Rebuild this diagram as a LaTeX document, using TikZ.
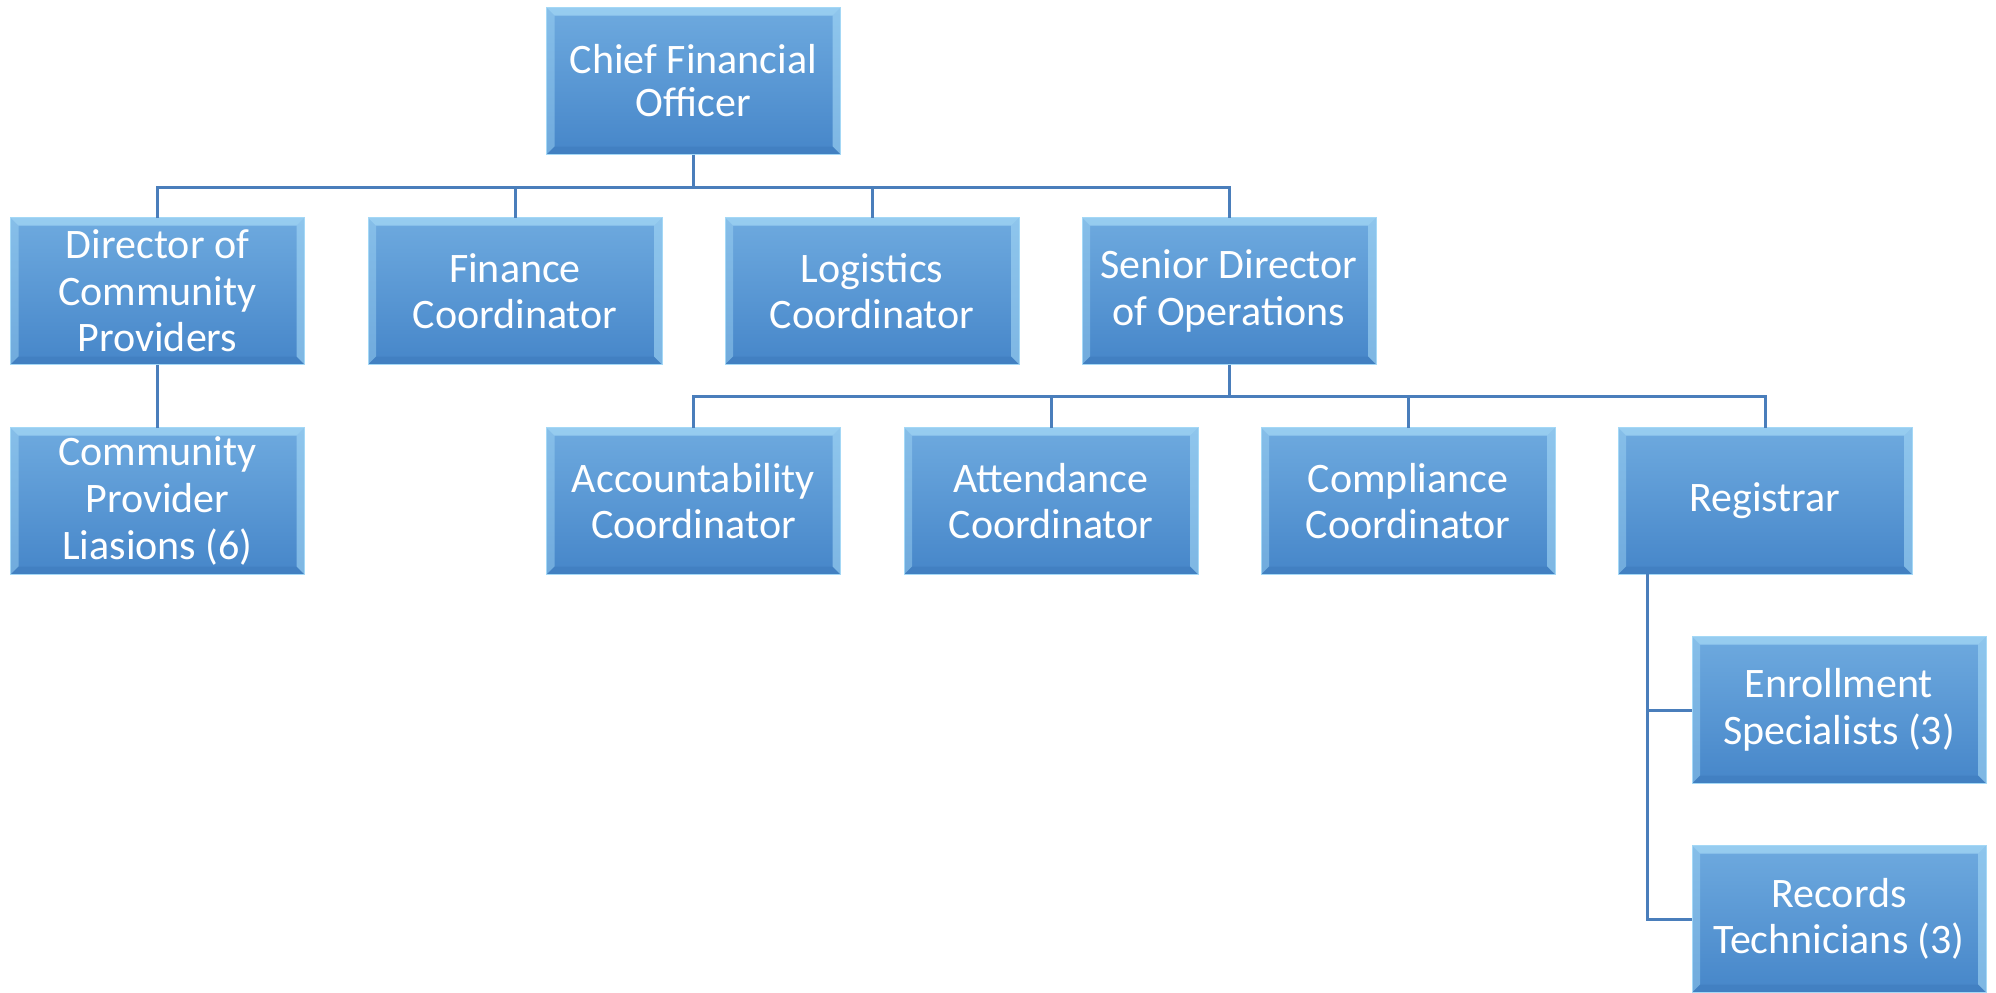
\documentclass[tikz,border=0pt]{standalone}
\usepackage{fontspec}
\setmainfont{Carlito}
\definecolor{boxtop}{HTML}{6EAADF}
\definecolor{boxbot}{HTML}{4686C9}
\definecolor{bevellight}{HTML}{A4D8F6}
\definecolor{beveldark}{HTML}{3F7CBD}
\definecolor{linkcol}{HTML}{4A7EBB}
\tikzset{
  orgbox/.style={rectangle, minimum width=147pt, minimum height=73.5pt,
    inner sep=0pt, outer sep=0pt, top color=boxtop, bottom color=boxbot,
    draw=bevellight, line width=.4pt, text=white, align=center,
    font=\fontsize{21}{23.3}\selectfont,
    path picture={
      \fill[bevellight, opacity=.75] (path picture bounding box.north west) -- (path picture bounding box.north east)
        -- ([xshift=-4pt,yshift=-4pt]path picture bounding box.north east) -- ([xshift=4pt,yshift=-4pt]path picture bounding box.north west) -- cycle;
      \fill[bevellight, opacity=.45] (path picture bounding box.north west) -- (path picture bounding box.south west)
        -- ([xshift=4pt,yshift=4pt]path picture bounding box.south west) -- ([xshift=4pt,yshift=-4pt]path picture bounding box.north west) -- cycle;
      \fill[bevellight, opacity=.6] (path picture bounding box.north east) -- (path picture bounding box.south east)
        -- ([xshift=-4pt,yshift=4pt]path picture bounding box.south east) -- ([xshift=-4pt,yshift=-4pt]path picture bounding box.north east) -- cycle;
      \fill[beveldark, opacity=.6] (path picture bounding box.south west) -- (path picture bounding box.south east)
        -- ([xshift=-4pt,yshift=4pt]path picture bounding box.south east) -- ([xshift=4pt,yshift=4pt]path picture bounding box.south west) -- cycle;
    }},
  orgline/.style={draw=linkcol, line width=1.5pt}
}
\begin{document}
\begin{tikzpicture}[x=0.5pt, y=-0.5pt]
  \useasboundingbox (0,0) rectangle (1996,992);
  % top level
  \node[orgbox, font=\fontsize{21}{21.5}\selectfont] (cfo) at (693.5, 81) {Chief Financial\\Officer};
  % second row
  \node[orgbox] (dircp) at (157.5, 291) {Director of\\Community\\Providers};
  \node[orgbox] (fincoord) at (515, 291) {Finance\\Coordinator};
  \node[orgbox] (logcoord) at (872, 291) {Logistics\\Coordinator};
  \node[orgbox] (srdirops) at (1229, 291) {Senior Director\\of Operations};
  % third row
  \node[orgbox] (liaisons) at (157.5, 501) {Community\\Provider\\Liasions (6)};
  \node[orgbox] (acccoord) at (693.5, 501) {Accountability\\Coordinator};
  \node[orgbox] (attcoord) at (1051, 501) {Attendance\\Coordinator};
  \node[orgbox] (compcoord) at (1408, 501) {Compliance\\Coordinator};
  \node[orgbox] (registrar) at (1765, 501) {Registrar};
  % under the registrar
  \node[orgbox] (enroll) at (1839, 710) {Enrollment\\Specialists (3)};
  \node[orgbox] (records) at (1839, 919) {Records\\Technicians (3)};
  % connectors
  \coordinate (busa) at (693.5, 187);
  \coordinate (busb) at (1229, 396);
  \coordinate (regline) at (1647, 574);
  \draw[orgline] (cfo.south) -- (busa);
  \foreach \n in {dircp, fincoord, logcoord, srdirops}
    \draw[orgline] (busa) -| (\n.north);
  \draw[orgline] (dircp.south) -- (liaisons.north);
  \draw[orgline] (srdirops.south) -- (busb);
  \foreach \n in {acccoord, attcoord, compcoord, registrar}
    \draw[orgline] (busb) -| (\n.north);
  \draw[orgline] (regline) |- (enroll.west);
  \draw[orgline] (regline) |- (records.west);
\end{tikzpicture}
\end{document}
